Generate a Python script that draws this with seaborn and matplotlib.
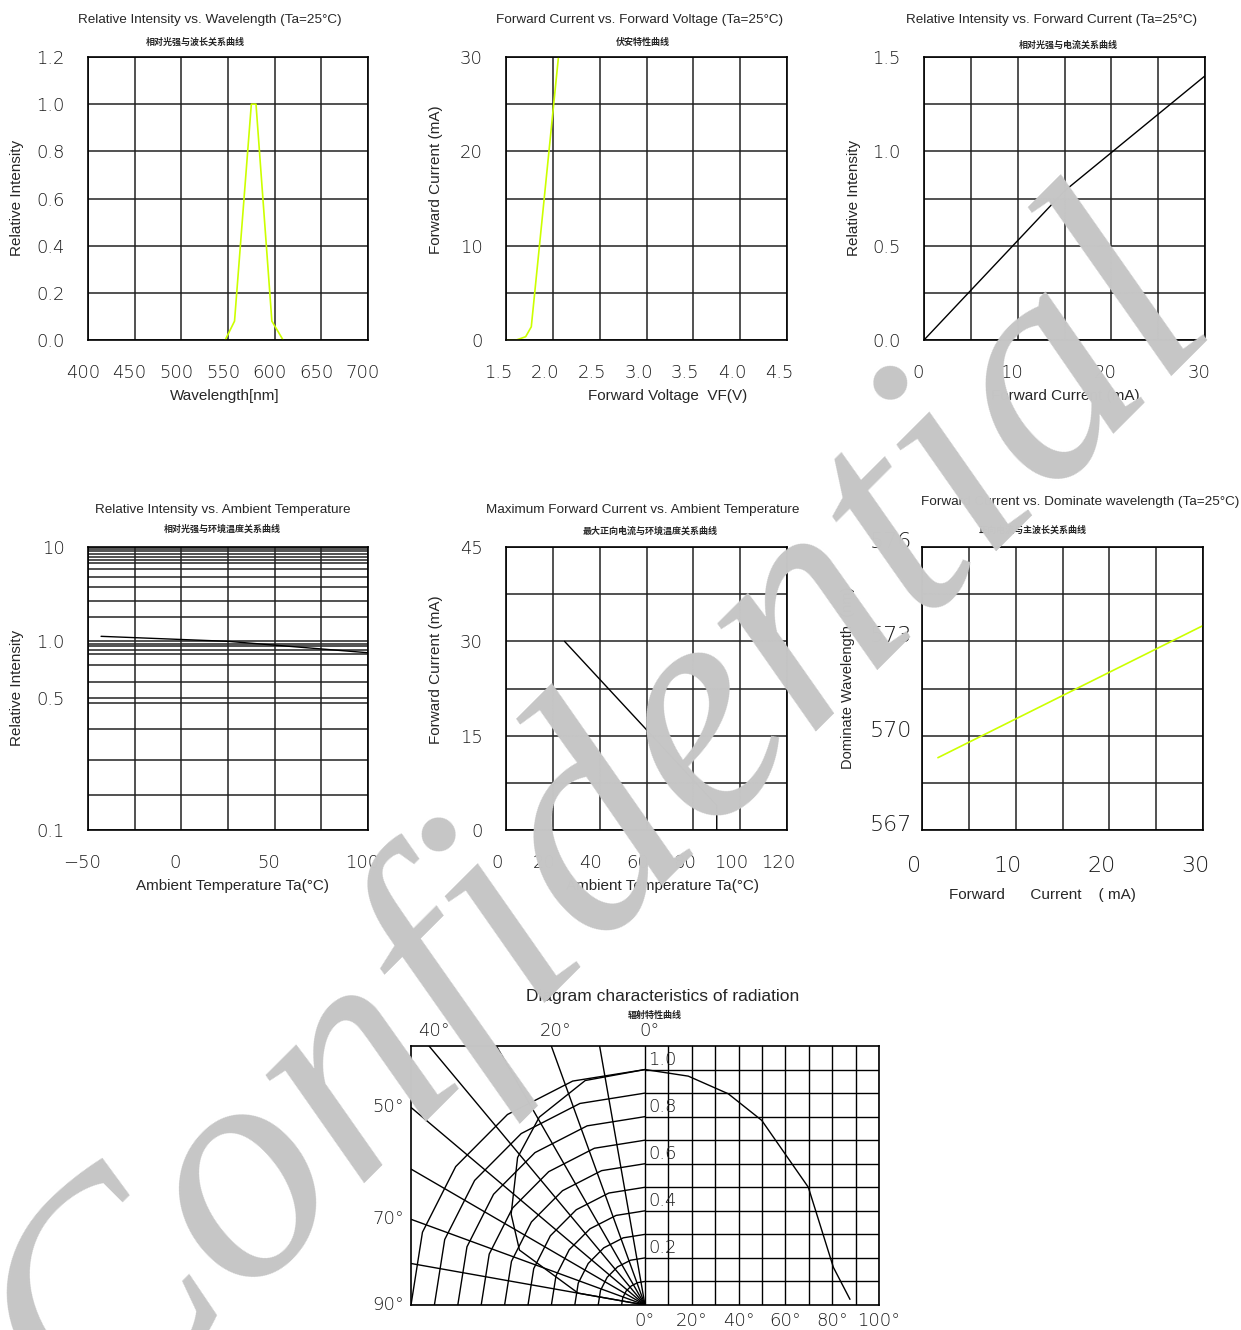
import numpy as np
import pandas as pd
import seaborn as sns
import matplotlib.pyplot as plt
from matplotlib.transforms import ScaledTranslation

# ---- data ----
# relative intensity vs wavelength
wl_nm = [547, 557, 575, 580, 597, 609]
wl_ri = [0, 0.08, 1.0, 1.0, 0.08, 0]
# forward current vs forward voltage
vf_v = [1.5, 1.61, 1.71, 1.77, 2.06]
vf_ma = [0, 0, 0.35, 1.4, 30]
# relative intensity vs forward current
fc_ma = [0, 15, 30]
fc_ri = [0, 0.79, 1.40]
# relative intensity vs ambient temperature
at_c = [-43, 25, 100]
at_ri = [1.13, 1.0, 0.87]
# max forward current vs ambient temperature
mt_c = [25, 90, 90]
mt_ma = [30, 3.9, 0]
# dominant wavelength vs forward current
dw_ma = [1.7, 30]
dw_nm = [569.3, 573.5]
# radiation pattern (polar half / cartesian half)
rad_l_deg = [0, 15, 29.5, 41, 56, 66.5, 80, 90]
rad_l_r = [1.0, 0.987, 0.917, 0.83, 0.69, 0.585, 0.29, 0]
rad_r_deg = [0, 18.5, 35.6, 49.9, 69.8, 80.5, 87.6]
rad_r_i = [1.0, 0.972, 0.897, 0.784, 0.50, 0.16, 0.024]

sns.set_theme(style='white')
plt.rcParams['font.family'] = ['Liberation Sans', 'Noto Sans CJK SC', 'DejaVu Sans']

W, H = 1241, 1330
fig = plt.figure(figsize=(W/100, H/100), dpi=100)
YEL = '#ccff00'
TICKC = '#1a1a1a'

def box(x0, y0, x1, y1):
    return [x0/W, 1-y1/H, (x1-x0)/W, (y1-y0)/H]

def ftxt(x, y, s, **kw):
    kw.setdefault('ha', 'center')
    kw.setdefault('va', 'center')
    fig.text(x/W, 1-y/H, s, **kw)

def title(x, y, s):
    ftxt(x, y, s, fontsize=9.7)

def subtitle(x, y, s):
    ftxt(x, y, s, fontsize=6.5, fontweight='bold', family=['Noto Sans CJK SC', 'DejaVu Sans'])

def style(ax, xmaj, xlab, xmin, ymaj, ylab, ymin, size=13, xpad=17, ypad=17):
    ax.set_xticks(xmaj, xlab)
    ax.set_xticks(xmin, minor=True)
    ax.set_yticks(ymaj, ylab)
    ax.set_yticks(ymin, minor=True)
    ax.grid(True, which='both', color='#222222', linewidth=1.1)
    ax.tick_params(which='both', length=0, labelsize=size, labelcolor=TICKC)
    ax.tick_params(axis='x', pad=xpad)
    ax.tick_params(axis='y', pad=ypad)
    for lab in ax.get_xticklabels() + ax.get_yticklabels():
        lab.set_family('DejaVu Sans')
        lab.set_fontweight('light')
    for sp in ax.spines.values():
        sp.set_color('black')
        sp.set_linewidth(1.2)
    ax.set_xlabel('')
    ax.set_ylabel('')

def shift_labels(labels, dx, dy=0):
    off = ScaledTranslation(dx/100, dy/100, fig.dpi_scale_trans)
    for lab in labels:
        lab.set_transform(lab.get_transform() + off)

# 1: relative intensity vs wavelength
ax1 = fig.add_axes(box(88, 57, 368, 340))
sns.lineplot(x=wl_nm, y=wl_ri, ax=ax1, color=YEL, linewidth=1.2, sort=False, estimator=None)
ax1.set_xlim(400, 700)
ax1.set_ylim(0, 1.2)
xt = list(range(400, 701, 50))
yt = [0, 0.2, 0.4, 0.6, 0.8, 1.0, 1.2]
style(ax1, xt, [str(v) for v in xt], [], yt, ['%.1f' % v for v in yt], [])
shift_labels(ax1.get_xticklabels(), -5)
title(210, 20, 'Relative Intensity vs. Wavelength (Ta=25°C)')
subtitle(195, 42, '相对光强与波长关系曲线')
ftxt(225, 396, 'Wavelength[nm]', fontsize=11)
ftxt(17, 198, 'Relative Intensity', fontsize=11, rotation=90)

# 2: forward current vs forward voltage
ax2 = fig.add_axes(box(506, 57, 787, 340))
sns.lineplot(x=vf_v, y=vf_ma, ax=ax2, color=YEL, linewidth=1.2, sort=False, estimator=None)
ax2.set_xlim(1.5, 4.5)
ax2.set_ylim(0, 30)
xt = [1.5, 2.0, 2.5, 3.0, 3.5, 4.0, 4.5]
style(ax2, xt, ['%.1f' % v for v in xt], [], [0, 10, 20, 30], ['0', '10', '20', '30'], [5, 15, 25])
shift_labels(ax2.get_xticklabels(), -8)
title(640, 20, 'Forward Current vs. Forward Voltage (Ta=25°C)')
subtitle(643, 42, '伏安特性曲线')
ftxt(668, 396, 'Forward Voltage  VF(V)', fontsize=11)
ftxt(436, 180, 'Forward Current (mA)', fontsize=11, rotation=90)

# 3: relative intensity vs forward current
ax3 = fig.add_axes(box(924, 57, 1205, 340))
sns.lineplot(x=fc_ma, y=fc_ri, ax=ax3, color='black', linewidth=1.0, sort=False, estimator=None)
ax3.set_xlim(0, 30)
ax3.set_ylim(0, 1.5)
style(ax3, [0, 10, 20, 30], ['0', '10', '20', '30'], [5, 15, 25],
      [0, 0.5, 1.0, 1.5], ['0.0', '0.5', '1.0', '1.5'], [0.25, 0.75, 1.25])
shift_labels(ax3.get_xticklabels(), -6)
title(1052, 20, 'Relative Intensity vs. Forward Current (Ta=25°C)')
subtitle(1068, 45, '相对光强与电流关系曲线')
ftxt(1065, 396, 'Forward Current (mA)', fontsize=11)
ftxt(854, 198, 'Relative Intensity', fontsize=11, rotation=90)

# 4: relative intensity vs ambient temperature (datasheet pseudo-log axis)
def fwd(y):
    y = np.clip(np.asarray(y, dtype=float), 1e-6, None)
    return np.where(y >= 1, 0.5*np.log10(y), np.log10(y))

def inv(v):
    v = np.asarray(v, dtype=float)
    return np.where(v >= 0, 10**(2*v), 10**v)

ax4 = fig.add_axes(box(88, 547, 368, 830))
ax4.set_yscale('function', functions=(fwd, inv))
sns.lineplot(x=at_c, y=at_ri, ax=ax4, color='black', linewidth=1.0, sort=False, estimator=None)
ax4.set_xlim(-50, 100)
ax4.set_ylim(0.1, 10)
grid_lo = [0.153, 0.235, 0.343, 0.471, 0.609, 0.749, 0.861, 0.904, 0.941, 0.972]
grid_hi = [1.8, 2.7, 3.8, 4.8, 5.9, 6.7, 7.2, 7.8, 8.4, 9.0, 9.6]
style(ax4, [-50, 0, 50, 100], ['−50', '0', '50', '100'], [-25, 25, 75],
      [0.1, 0.5, 1.0, 10], ['0.1', '0.5', '1.0', '10'], grid_lo + grid_hi)
shift_labels(ax4.get_xticklabels(), -6)
title(223, 510, 'Relative Intensity vs. Ambient Temperature')
subtitle(222, 529, '相对光强与环境温度关系曲线')
ftxt(232, 886, 'Ambient Temperature Ta(°C)', fontsize=11)
ftxt(17, 688, 'Relative Intensity', fontsize=11, rotation=90)

# 5: maximum forward current vs ambient temperature
ax5 = fig.add_axes(box(506, 547, 787, 830))
sns.lineplot(x=mt_c, y=mt_ma, ax=ax5, color='black', linewidth=1.0, sort=False, estimator=None)
ax5.set_xlim(0, 120)
ax5.set_ylim(0, 45)
xt = list(range(0, 121, 20))
style(ax5, xt, [str(v) for v in xt], [], [0, 15, 30, 45], ['0', '15', '30', '45'], [7.5, 22.5, 37.5])
shift_labels(ax5.get_xticklabels(), -9)
title(643, 510, 'Maximum Forward Current vs. Ambient Temperature')
subtitle(650, 531, '最大正向电流与环境温度关系曲线')
ftxt(662, 886, 'Ambient Temperature Ta(°C)', fontsize=11)
ftxt(436, 670, 'Forward Current (mA)', fontsize=11, rotation=90)

# 6: dominant wavelength vs forward current
ax6 = fig.add_axes(box(922, 547, 1203, 830))
sns.lineplot(x=dw_ma, y=dw_nm, ax=ax6, color=YEL, linewidth=1.2, sort=False, estimator=None)
ax6.set_xlim(0, 30)
ax6.set_ylim(567, 576)
style(ax6, [0, 10, 20, 30], ['0', '10', '20', '30'], [5, 15, 25],
      [567, 570, 573, 576], ['567', '570', '573', '576'], [568.5, 571.5, 574.5],
      size=16, xpad=19, ypad=7)
shift_labels(ax6.get_xticklabels(), -8)
shift_labels(ax6.get_yticklabels(), 0, 7)
title(1080, 502, 'Forward Current vs. Dominate wavelength (Ta=25°C)')
subtitle(1033, 530, '正向电流与主波长关系曲线')
ftxt(1042, 895, 'Forward      Current    ( mA)', fontsize=11)
ftxt(848, 678, 'Dominate Wavelength  (nm)', fontsize=10.5, rotation=90)

# 7: radiation diagram
ax7 = fig.add_axes(box(411, 1046, 879, 1305))
ax7.set_xlim(-1, 1)
ax7.set_ylim(0, 1.1)
ax7.set_xticks([])
ax7.set_yticks([])
for sp in ax7.spines.values():
    sp.set_color('black')
    sp.set_linewidth(1.2)
gk = dict(color='black', linewidth=1.0, zorder=1)
# cartesian grid of right half
for k in range(11):
    ax7.plot([k/10, k/10], [0, 1.1], **gk)
for k in range(1, 11):
    ax7.plot([0, 1], [k/10, k/10], **gk)
# polar grid of left half
for a in range(10, 91, 10):
    t = np.radians(a)
    lim = [1.0/np.sin(t)]
    if np.cos(t) > 1e-9:
        lim.append(1.1/np.cos(t))
    L = min(lim)
    ax7.plot([0, -L*np.sin(t)], [0, L*np.cos(t)], **gk)
arc_t = np.radians(np.arange(0, 91, 18))
for k in range(1, 11):
    r = k/10
    ax7.plot(-r*np.sin(arc_t), r*np.cos(arc_t), **gk)
# pattern curves
lt = np.radians(rad_l_deg)
rl = np.array(rad_l_r)
sns.lineplot(x=-rl*np.sin(lt), y=rl*np.cos(lt), ax=ax7, color='black', linewidth=1.0,
             sort=False, estimator=None)
sns.lineplot(x=np.array(rad_r_deg)/100, y=rad_r_i, ax=ax7, color='black', linewidth=1.0,
             sort=False, estimator=None)
ax7.set_xlabel('')
ax7.set_ylabel('')
lk = dict(fontsize=13, color=TICKC, family='DejaVu Sans', fontweight='light', clip_on=False)
for d in range(0, 101, 20):
    ax7.text(d/100, -0.07, '%d°' % d, ha='center', va='center', **lk)
for v in [0.2, 0.4, 0.6, 0.8, 1.0]:
    ax7.text(0.015, v + 0.04, '%.1f' % v, ha='left', va='center', **lk)
for a in [0, 20, 40]:
    ax7.text(-1.1*np.tan(np.radians(a)) + 0.02, 1.165, '%d°' % a, ha='center', va='center', **lk)
for a in [50, 70, 90]:
    yy = 1/np.tan(np.radians(a)) if a < 90 else 0
    ax7.text(-1.03, yy, '%d°' % a, ha='right', va='center', **lk)
ftxt(663, 996, 'Diagram characteristics of radiation', fontsize=12.5)
subtitle(655, 1015, '辐射特性曲线')

# watermark
fig.text(598/W, 1-822/H, 'Confidential', rotation=45, fontsize=230, family='Liberation Serif',
         style='italic', color='#c6c6c6', ha='center', va='center', zorder=100)

fig.savefig('out.png', dpi=100)
